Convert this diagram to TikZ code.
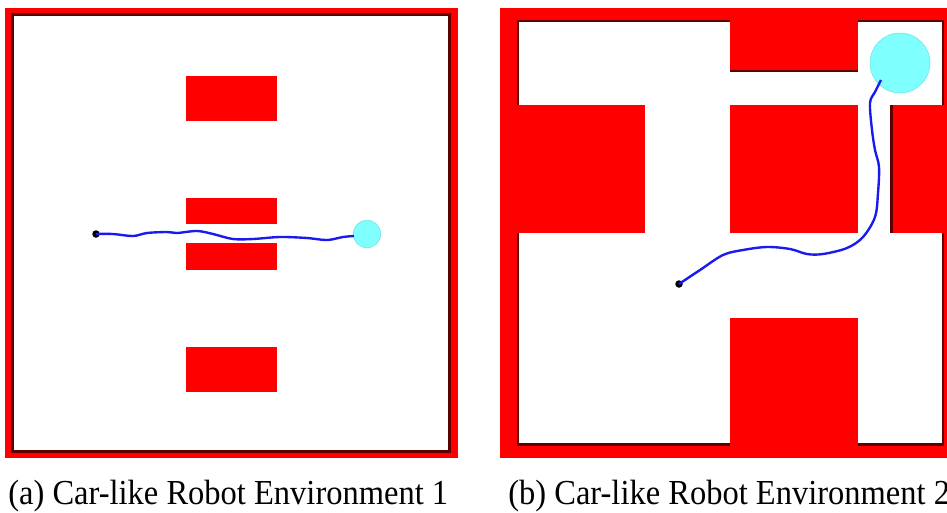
\documentclass[tikz,border=0pt]{standalone}
\usepackage{fontspec}
\setmainfont{Liberation Serif}
\definecolor{wallred}{RGB}{255,0,0}
\definecolor{wallshadow}{RGB}{95,0,0}
\definecolor{goalcyan}{RGB}{128,255,255}
\definecolor{goaledge}{RGB}{110,225,225}
\definecolor{pathblue}{RGB}{25,25,240}

\begin{document}
\begin{tikzpicture}[x=0.02cm, y=-0.02cm,
    wall/.style={fill=wallred},
    shadowstrip/.style={fill=wallshadow},
    freespace/.style={fill=white},
    obstacle/.style={fill=wallred},
    goalzone/.style={circle, fill=goalcyan, draw=goaledge, line width=0.3pt, inner sep=0pt},
    startdot/.style={circle, fill=black, inner sep=0pt, minimum size=0.15cm},
    robotpath/.style={draw=pathblue, line width=1.35pt, smooth, tension=0.55},
    caption/.style={anchor=base west, inner sep=0pt, font=\fontsize{18.5}{22}\selectfont}]
    \useasboundingbox (0,0) rectangle (947,512);
    \clip (0,0) rectangle (947,512);

    % environment 1
    \fill[wall] (5,8) rectangle (458,458);
    \fill[shadowstrip] (11,13) rectangle (451,453);
    \fill[freespace] (14,16) rectangle (448,450);
    \fill[obstacle] (186,76) rectangle (277,121);
    \fill[obstacle] (186,198) rectangle (277,224);
    \fill[obstacle] (186,243) rectangle (277,270);
    \fill[obstacle] (186,347) rectangle (277,392);

    \node[goalzone, minimum size=0.55cm] (goalA) at (367,234) {};
    \node[startdot] (startA) at (96,234) {};
    \draw[robotpath] plot coordinates {(startA.center) (113,234) (133,236) (147,233)
        (167,232) (177,233) (197,231) (213,234) (233,239) (253,239) (280,237)
        (307,238) (327,240) (343,237) (354,236)};

    % environment 2
    \fill[wall] (500,8) rectangle (960,458);
    \fill[shadowstrip] (517,20) rectangle (944,446);
    \fill[freespace] (519,22) rectangle (942,443);
    \fill[obstacle] (730,8) rectangle (858,72);
    \fill[shadowstrip] (730,69.5) rectangle (858,72);
    \fill[obstacle] (500,105) rectangle (645,233);
    \fill[obstacle] (730,105) rectangle (858,233);
    \fill[obstacle] (890,105) rectangle (960,233);
    \fill[shadowstrip] (890,105) rectangle (892.5,233);
    \fill[obstacle] (730,318) rectangle (858,458);

    \node[goalzone, minimum size=1.2cm] (goalB) at (900,63) {};
    \node[startdot] (startB) at (679,284) {};
    \draw[robotpath] plot coordinates {(startB.center) (700,270) (723,255) (743,250)
        (767,247) (790,249) (807,254) (823,254) (847,248) (863,237) (875,217)
        (878,193) (879,167) (875,150) (872,130) (870,103) (875,92) (881,80)};

    % captions
    \node[caption] (capA) at (8,504) {\scalebox{1}[1.08]{(a) Car-like Robot Environment 1}};
    \node[caption] (capB) at (508,504) {\scalebox{1}[1.08]{(b) Car-like Robot Environment 2}};
\end{tikzpicture}
\end{document}
